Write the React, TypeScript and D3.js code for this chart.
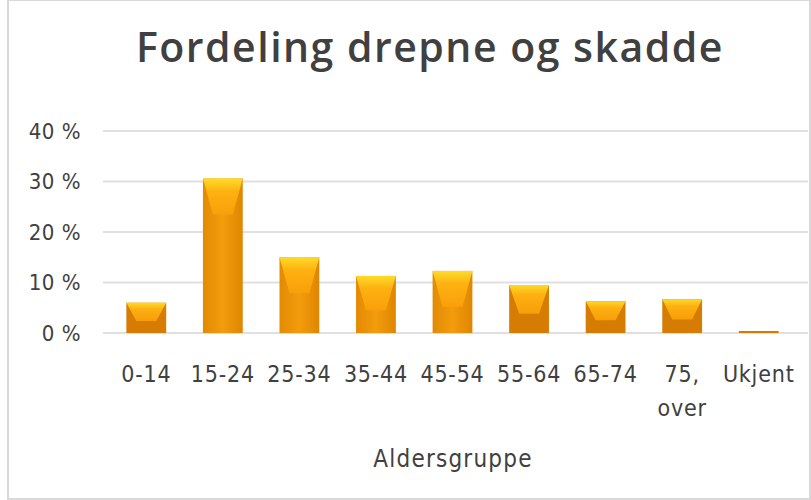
import React, { useRef, useEffect } from 'react';
import * as d3 from 'd3';

const categories = ['0-14', '15-24', '25-34', '35-44', '45-54', '55-64', '65-74', '75, over', 'Ukjent'];
const shares = [6.0, 30.6, 15.0, 11.3, 12.3, 9.5, 6.3, 6.7, 0.4];
const yTicks = [0, 10, 20, 30, 40];

const W = 811;
const H = 500;

function App() {
    const ref = useRef<SVGSVGElement>(null);

    useEffect(() => {
        const svg = d3.select(ref.current);
        svg.selectAll('*').remove();

        const font = "'DejaVu Sans Condensed', 'Open Sans', sans-serif";

        const defs = svg.append('defs');
        const grad = defs.append('linearGradient')
            .attr('id', 'barGrad')
            .attr('x1', 0).attr('y1', 0).attr('x2', 1).attr('y2', 0);
        grad.append('stop').attr('offset', '0%').attr('stop-color', '#e38a04');
        grad.append('stop').attr('offset', '50%').attr('stop-color', '#f39c0c');
        grad.append('stop').attr('offset', '100%').attr('stop-color', '#df8602');

        const hi = defs.append('linearGradient')
            .attr('id', 'hiGrad')
            .attr('x1', 0).attr('y1', 0).attr('x2', 0).attr('y2', 1);
        hi.append('stop').attr('offset', '0%').attr('stop-color', '#ffe02a');
        hi.append('stop').attr('offset', '35%').attr('stop-color', '#ffb312');
        hi.append('stop').attr('offset', '100%').attr('stop-color', '#fa9f0a');

        svg.append('rect')
            .attr('x', 8).attr('y', 0).attr('width', W - 9).attr('height', H - 1)
            .attr('fill', '#fff').attr('stroke', '#d9d9d9').attr('stroke-width', 2);

        const x = d3.scaleBand()
            .domain(categories)
            .range([108, 797])
            .paddingInner(0.48)
            .paddingOuter(0.24);

        const y = d3.scaleLinear()
            .domain([0, 40])
            .range([333, 131]);

        // grid
        svg.append('g')
            .selectAll('line')
            .data(yTicks)
            .enter().append('line')
            .attr('x1', 103).attr('x2', 808)
            .attr('y1', d => y(d)).attr('y2', d => y(d))
            .attr('stroke', '#e0e0e0').attr('stroke-width', 2);

        // y labels
        svg.append('g')
            .selectAll('text')
            .data(yTicks)
            .enter().append('text')
            .attr('x', 81)
            .attr('y', d => y(d))
            .attr('dy', '0.35em')
            .attr('text-anchor', 'end')
            .attr('font-family', font)
            .attr('font-size', 22)
            .attr('letter-spacing', 0.5)
            .attr('fill', '#404040')
            .text(d => d + ' %');

        const bars = svg.append('g')
            .selectAll('g')
            .data(categories.map((c, i) => ({ c, v: shares[i] })))
            .enter().append('g');

        bars.append('rect')
            .attr('x', d => x(d.c)!)
            .attr('y', d => y(d.v))
            .attr('width', x.bandwidth())
            .attr('height', d => y(0) - y(d.v))
            .attr('fill', d => d.v > 11 ? 'url(#barGrad)' : '#d67c02');

        // glossy highlight on top
        bars.filter(d => d.v > 1).append('path')
            .attr('d', d => {
                const x0 = x(d.c)!;
                const w = x.bandwidth();
                const top = y(d.v);
                const h = Math.min(y(0) - top, 60) * 0.6;
                const inset = w * 0.25;
                return `M${x0},${top}L${x0 + w},${top}L${x0 + w - inset},${top + h}L${x0 + inset},${top + h}Z`;
            })
            .attr('fill', 'url(#hiGrad)')
            .attr('opacity', 0.95);

        // category labels
        const labels = svg.append('g')
            .selectAll('text')
            .data(categories)
            .enter().append('text')
            .attr('x', d => x(d)! + x.bandwidth() / 2)
            .attr('y', 382)
            .attr('text-anchor', 'middle')
            .attr('font-family', font)
            .attr('font-size', 23)
            .attr('letter-spacing', 0.8)
            .attr('fill', '#404040');
        labels.each(function (d) {
            const parts = d.split(' ');
            const t = d3.select(this);
            parts.forEach((p, i) => {
                t.append('tspan')
                    .attr('x', x(d)! + x.bandwidth() / 2)
                    .attr('dy', i === 0 ? 0 : 34)
                    .text(p);
            });
        });

        svg.append('text')
            .attr('x', 453)
            .attr('y', 467)
            .attr('text-anchor', 'middle')
            .attr('font-family', font)
            .attr('font-size', 24)
            .attr('letter-spacing', 1.2)
            .attr('fill', '#404040')
            .text('Aldersgruppe');

        svg.append('text')
            .attr('x', 430)
            .attr('y', 62)
            .attr('text-anchor', 'middle')
            .attr('font-family', "'Open Sans', 'DejaVu Sans', sans-serif")
            .attr('font-size', 41)
            .attr('font-weight', 600)
            .attr('letter-spacing', 1.5)
            .attr('fill', '#404040')
            .text('Fordeling drepne og skadde');
    }, []);

    return (
        <svg ref={ref} width={W} height={H} style={{ position: 'absolute', left: 0, top: 0 }} />
    );
}

export default App;
